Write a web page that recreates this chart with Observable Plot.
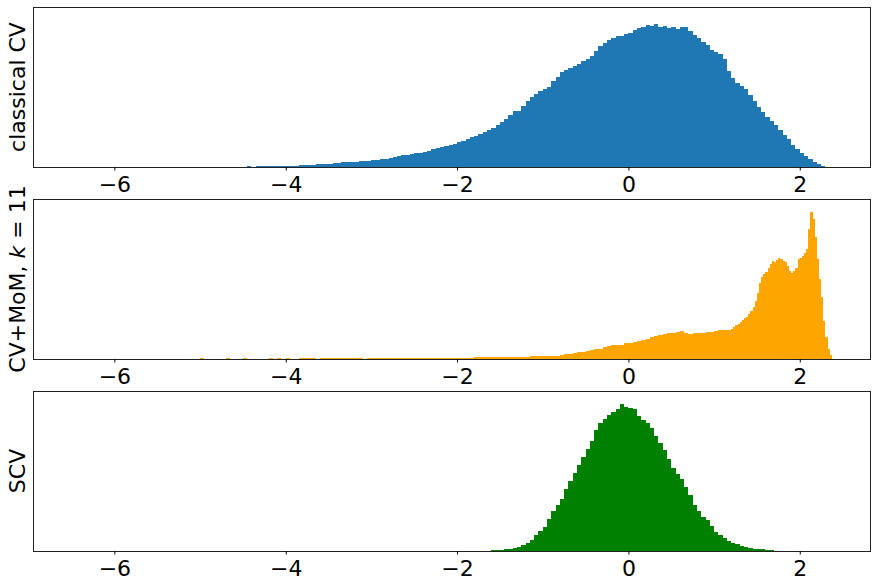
<!DOCTYPE html>
<html><head><meta charset="utf-8">
<script src="https://cdn.jsdelivr.net/npm/d3@7"></script>
<script src="https://cdn.jsdelivr.net/npm/@observablehq/plot@0.6"></script>
<style>
body{margin:0;background:#fff;}
#chart{width:877px;height:585px;background:#fff;}
#chart svg{display:block;}
</style></head><body><div id="chart"></div>
<script>
const xTicks = [-6, -4, -2, 0, 2];

// classical CV histogram (bin start, bin width, counts)
const classicalStart = -4.8, classicalStep = 0.05;
const classicalCounts = [
  0.3,0.5,0.2,0.4,0.3,0.5,0.4,0.6,0.5,0.7,
  0.6,0.8,1.0,0.9,1.1,1.0,1.3,1.4,1.5,1.7,
  1.9,2.1,2.3,2.7,3.0,3.2,3.5,4.0,4.5,4.8,
  5.0,5.3,5.5,5.8,6.0,6.3,6.8,7.2,8.0,8.5,
  9.3,10.2,11.0,11.8,12.5,13.0,13.6,14.2,15.5,16.5,
  17.8,19.0,20.0,21.0,22.3,23.5,25.0,26.5,28.0,30.0,
  31.5,33.5,35.0,37.5,39.5,42.0,45.0,48.0,52.0,56.0,
  56.5,61.0,66.0,70.0,73.0,76.0,78.0,80.0,86.0,90.0,
  95.0,97.0,99.0,101.0,103.0,106.0,108.0,111.0,116.0,121.0,
  124,127,129,131,131.5,133,134,137,139,140,
  142,141,143,140,141,139,140,138,140,140.5,
  136,132,129,125,122,117,115,113,108,96,
  89,84,81,78,72,66,60,55,50,46,
  42,37,32,28,22,18,14.5,11,8,5,
  3,1.5
];

// CV+MoM histogram: wide part and finer peak part
const momTailStart = -5.0, momTailStep = 0.05;
const momTailCounts = [
  1,0,0,0,0,0,0.8,0,0,0,
  0.8,0,0,0,0,0,0.8,0,0.8,0,
  0.8,0,0,0.8,0.8,0.8,0.8,0,0.8,0.8,
  0.8,0.8,0.8,0.8,0.8,0.8,0.8,0.8,0,0.8,
  1,1,1,1,1,1,1,1,1,1,
  1,1,1,1,1,1,1,1,1.2,1.3,
  1.5,1.3,1.2,1.5,1.8,2,1.8,1.6,1.7,1.8,
  1.7,1.8,2,2.1,2.3,2.2,2.4,2.6,2.8,3,
  3.0,3.1,3.0,3.5,4.5,4.8,5.2,5.6,7.0,7.4,
  8.2,8.8,10.0,10.3,11.8,12.8,13.8,14.0,14.4,15.6,
  16.3,17.0,17.6,19.0,20.5,22.5,23.5,24.0,24.8,26.0,
  26.5,27.5,28.0,26.5,25.5,25.8,26.0,26.2,26.8,27.5,
  28.5,28.8,29.2,29.5
];
const momPeakStart = 1.2, momPeakStep = 0.025;
const momPeakCounts = [
  30.5,32.0,34.0,35.5,37.0,39.0,41.0,42.5,45.0,48.0,
  52.0,58.0,66.0,76.0,82.0,85.0,87.5,91.0,95.0,98.0,
  97.0,99.0,101.0,100.0,98.0,97.0,93.0,88.0,86.0,88.0,
  91.0,100.0,101.0,103.0,106.0,110.0,130.0,147.0,140.0,122.0,
  100.0,80.0,62.0,38.0,22.0,10.0,4.0,0
];

// SCV histogram
const scvStart = -1.6, scvStep = 0.05;
const scvCounts = [
  0.8,1.0,1.2,1.6,2.2,3.0,4.5,6.0,8.0,11.0,
  16.5,20.0,24.0,32.0,40.0,46.0,52.0,62.0,70.0,78.0,
  86.0,94.0,102.0,110.0,121.0,128.0,132.0,136.0,139.0,142.0,
  147.0,144.0,143.0,142.0,135.0,131.0,128.0,123.0,115.0,108.0,
  101.0,92.0,83.0,77.0,72.0,64.0,56.0,46.0,40.0,34.0,
  31.0,25.0,19.5,16.0,13.0,10.5,8.0,7.0,5.0,3.8,
  3.0,2.4,2.0,1.6,1.0,0.8,0.5
];

const labels = [
  [{t: "classical CV"}],
  [{t: "CV+MoM, "}, {t: "k", italic: true}, {t: " = 11"}],
  [{t: "SCV"}]
];
const colors = ["#1f77b4", "orange", "green"];

function bins(start, step, counts) {
  return counts.map((c, i) => ({x1: start + i * step, x2: start + (i + 1) * step, y: c})).filter(d => d.y > 0);
}

const panelData = [
  bins(classicalStart, classicalStep, classicalCounts),
  bins(momTailStart, momTailStep, momTailCounts).concat(bins(momPeakStart, momPeakStep, momPeakCounts)),
  bins(scvStart, scvStep, scvCounts)
];

const yTop = 160;
const W = 877, H = 192, mL = 33, mR = 7, mT = 7, mB = 25;
const FS = 22;
const root = document.getElementById("chart");

panelData.forEach((data, k) => {
  const plot = Plot.plot({
    width: W, height: H,
    marginLeft: mL, marginRight: mR, marginTop: mT, marginBottom: mB,
    style: {fontFamily: "DejaVu Sans", fontSize: FS + "px", background: "white", color: "black", overflow: "visible"},
    x: {domain: [-6.95, 2.82]},
    y: {domain: [0, yTop], axis: null},
    marks: [
      Plot.rectY(data, {x1: "x1", x2: "x2", y: "y", fill: colors[k], inset: 0, shapeRendering: "crispEdges"}),
      Plot.frame({stroke: "#222", strokeWidth: 1}),
      Plot.axisX({ticks: xTicks, tickSize: 3.5, tickPadding: 5, fontSize: FS, label: null, tickFormat: d3.format("d")})
    ]
  });
  const svg = d3.select(plot);
  const t = svg.append("text")
    .attr("transform", `translate(25,${mT + (H - mT - mB) / 2}) rotate(-90)`)
    .attr("text-anchor", "middle")
    .attr("font-family", "DejaVu Sans")
    .attr("font-size", FS)
    .attr("fill", "black");
  labels[k].forEach(p => {
    const s = t.append("tspan").text(p.t);
    if (p.italic) s.attr("font-style", "italic");
  });
  root.appendChild(plot);
});
</script>
</body></html>
